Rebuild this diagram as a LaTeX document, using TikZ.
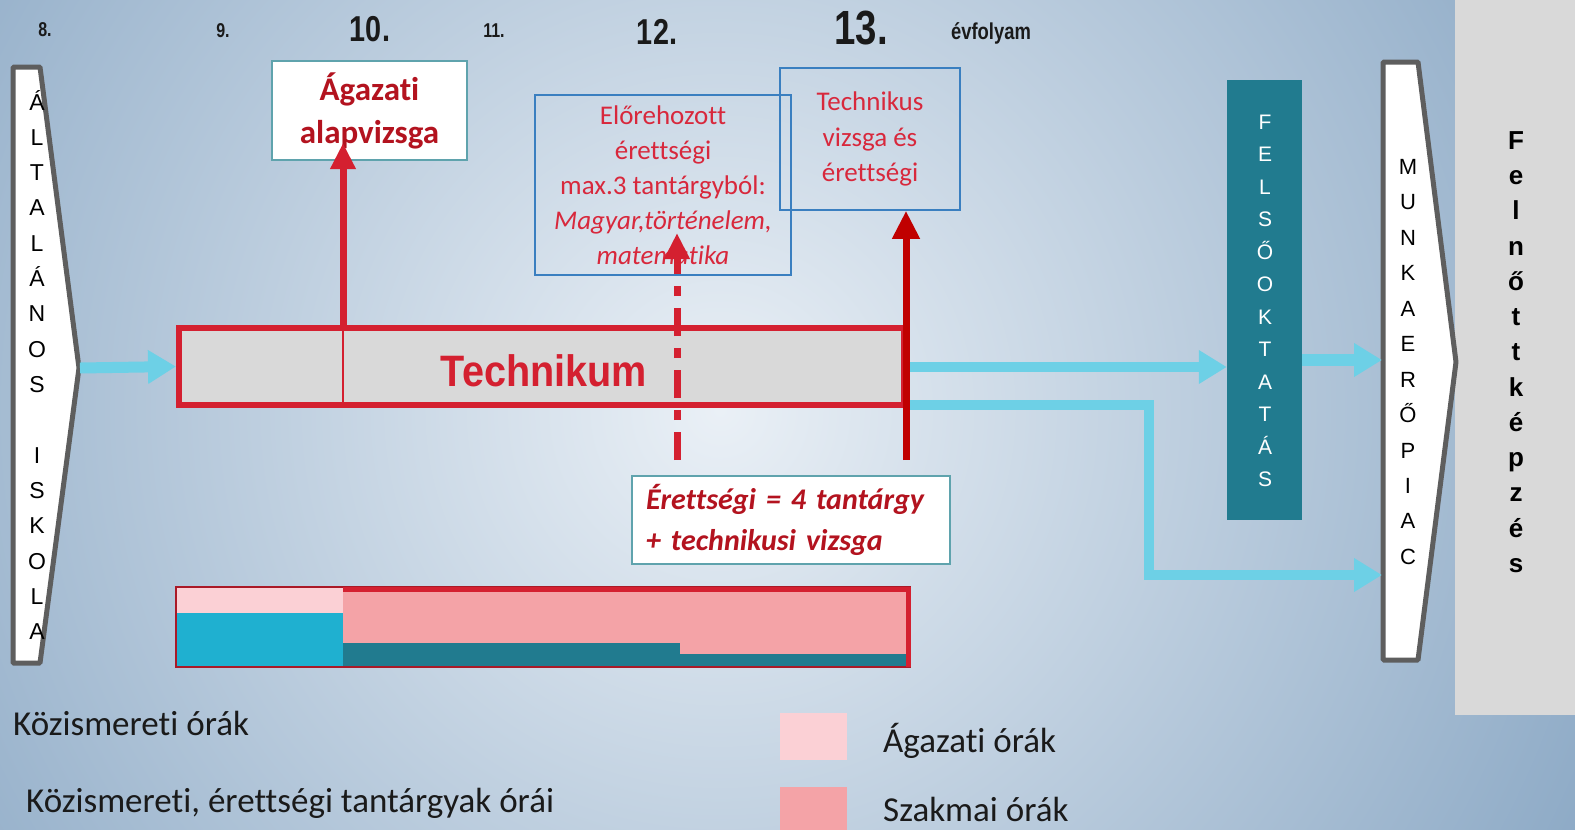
\documentclass[tikz,border=0pt]{standalone}
\usepackage{fontspec}
\setmainfont[Ligatures=NoCommon]{Carlito}
\newfontfamily\arial{Liberation Sans}
\newfontfamily\arialn[FakeStretch=0.9]{Liberation Sans}
\newfontfamily\arialnn[FakeStretch=0.8]{Liberation Sans}
\usetikzlibrary{arrows.meta}
\definecolor{bgin}{HTML}{EAF0F6}
\definecolor{bgout}{HTML}{789ABB}
\definecolor{panelgray}{HTML}{D9D9D9}
\definecolor{shapegray}{HTML}{5E5E5E}
\definecolor{redc}{HTML}{D42030}
\definecolor{darkredc}{HTML}{C00000}
\definecolor{textred}{HTML}{B3131F}
\definecolor{lightred}{HTML}{D8283C}
\definecolor{blueborder}{HTML}{3A7FC0}
\definecolor{tealborder}{HTML}{5FA3AD}
\definecolor{cyanc}{HTML}{6DD0E6}
\definecolor{tealc}{HTML}{217B8F}
\definecolor{salmon}{HTML}{F4A3A7}
\definecolor{lpink}{HTML}{FBD0D5}
\definecolor{cyanbar}{HTML}{1FB0D0}
\definecolor{darktext}{HTML}{1A1A1A}
\begin{document}
\begin{tikzpicture}[x=1pt,y=-1pt,
  whitebox/.style={draw=tealborder, fill=white, line width=1.5pt, inner sep=0pt},
  bluebox/.style={draw=blueborder, line width=1.5pt, inner sep=0pt},
  cyanarrow/.style={draw=cyanc, line width=11pt, line join=miter, -{Triangle[length=28pt,width=32pt]}},
  redarrow/.style={draw=redc, line width=7pt, -{Triangle[length=26pt,width=24pt]}},
  darkredarrow/.style={draw=darkredc, line width=7pt, -{Triangle[length=28pt,width=26pt]}},
  shapeborder/.style={draw=shapegray, fill=white, line width=5pt, line join=bevel},
  grade/.style={font=\arialnn\bfseries, text=darktext, inner sep=0pt},
  vletters/.style={align=center, inner sep=0pt},
  legendtext/.style={anchor=west, text=darktext, inner sep=0pt, font=\fontsize{35}{38}\selectfont}
]
\useasboundingbox (0,0) rectangle (1575,830);
% background
\begin{scope}
\clip (0,0) rectangle (1575,830);
\shade[inner color=bgin, outer color=bgout] (720,410) circle (1180pt);
\end{scope}
\fill[panelgray] (1455,0) rectangle (1575,715);

% grade labels
\node[grade, font=\arialnn\bfseries\fontsize{20}{22}\selectfont] (g8) at (45,30) {8.};
\node[grade, font=\arialnn\bfseries\fontsize{20}{22}\selectfont] (g9) at (223,31) {9.};
\node[grade, font=\arialnn\bfseries\fontsize{36}{38}\selectfont] (g10) at (370,29) {10.};
\node[grade, font=\arialnn\bfseries\fontsize{20}{22}\selectfont] (g11) at (494,31) {11.};
\node[grade, font=\arialnn\bfseries\fontsize{36}{38}\selectfont] (g12) at (657,32) {12.};
\node[grade, font=\arialnn\bfseries\fontsize{48}{50}\selectfont] (g13) at (861,28) {13.};
\node[grade, font=\arialnn\bfseries\fontsize{23}{25}\selectfont] (evf) at (991,33) {évfolyam};

% Altalanos iskola shape
\draw[shapeborder] (13,67) -- (40,67) -- (79,368) -- (40,663) -- (13,663) -- cycle;
\coordinate (alttip) at (80,368);
\node[vletters, font=\arial\fontsize{23}{35.33}\selectfont] (altlbl) at (37,365)
  {Á\\L\\T\\A\\L\\Á\\N\\O\\S\\\mbox{}\\I\\S\\K\\O\\L\\A};

% Munkaeropiac shape
\draw[shapeborder] (1383,62) -- (1418,62) -- (1456,362) -- (1418,660) -- (1383,660) -- cycle;
\coordinate (munkaL) at (1382,360);
\coordinate (munkaL2) at (1382,575);
\node[vletters, font=\arial\fontsize{22}{35.45}\selectfont] (munlbl) at (1408,362)
  {M\\U\\N\\K\\A\\E\\R\\Ő\\P\\I\\A\\C};

% Felnottkepzes
\node[vletters, font=\arial\bfseries\fontsize{26}{35.25}\selectfont] (felnott) at (1516,352)
  {F\\e\\l\\n\\ő\\t\\t\\k\\é\\p\\z\\é\\s};

% Felsooktatas
\node[fill=tealc, minimum width=75pt, minimum height=440pt, inner sep=0pt] (felso) at (1264.5,300) {};
\node[vletters, text=white, font=\arial\fontsize{21}{32.5}\selectfont] (felsolbl) at (1265,301)
  {F\\E\\L\\S\\Ő\\O\\K\\T\\A\\T\\Á\\S};

% Technikum
\node[draw=redc, fill=panelgray, line width=6pt, minimum width=725pt, minimum height=77pt, inner sep=0pt] (tech) at (541.5,366.5) {};
\node[text=redc, inner sep=0pt, font=\arialn\bfseries\fontsize{44}{46}\selectfont] (techlbl) at (544,371) {Technikum};
\coordinate (split) at (343,328);
\coordinate (splitb) at (343,405);
\draw[redc, line width=1.5pt] (split) -- (splitb);

% exam boxes
\node[whitebox, minimum width=195pt, minimum height=99pt, align=center, text=textred,
  font=\bfseries\fontsize{33}{43}\selectfont] (agv) at (369.5,110.5) {Ágazati\\alapvizsga};
\node[bluebox, minimum width=256pt, minimum height=180pt, align=center, text=lightred,
  font=\fontsize{27}{35}\selectfont] (elore) at (663,185)
  {Előrehozott\\érettségi\\max.3 tantárgyból:\\\textit{Magyar,történelem,}\\\textit{matematika}};
\node[bluebox, minimum width=180pt, minimum height=142pt, align=center, text=lightred,
  font=\fontsize{27}{35.5}\selectfont] (tvbox) at (870,139) {Technikus\\vizsga és\\érettségi};
\node[whitebox, minimum width=318pt, minimum height=88pt, align=left, text=textred,
  font=\bfseries\itshape\fontsize{30}{41}\selectfont, text width=290pt] (eretts) at (791,520)
  {Érettségi = 4 tantárgy\\+ technikusi vizsga};

% red arrows
\coordinate (agtip) at (343,143);
\draw[redarrow] (split) -- (agtip);
\coordinate (dashs) at (677,460);
\coordinate (dashe) at (677,233);
\draw[redarrow, dash pattern=on 28pt off 12pt on 10pt off 12pt] (dashs) -- (dashe);
\coordinate (tvs) at (906,460);
\draw[darkredarrow] (tvs) -- (tvs |- tvbox.south);

% cyan arrows
\draw[cyanarrow] (alttip) -- (tech.west);
\coordinate (c1) at (910,367);
\draw[cyanarrow, line width=10pt] (c1) -- (c1 -| felso.west);
\draw[cyanarrow, line width=12pt] (felso.east |- munkaL) -- (munkaL);
\coordinate (c2) at (910,405);
\coordinate (bendx) at (1149,575);
\draw[cyanarrow, line width=10pt] (c2) -| (bendx) -- (munkaL2);

% bottom bar
\fill[lpink] (176,587) rectangle (343,613);
\fill[cyanbar] (176,613) rectangle (343,667);
\fill[salmon] (343,587) rectangle (910,667);
\fill[tealc] (343,643) rectangle (680,667);
\fill[tealc] (680,654) rectangle (910,667);
\draw[redc!80!black, line width=2pt] (176,587) rectangle (910,667);
\draw[redc, line width=5pt] (343,589.5) -- (908.5,589.5) -- (908.5,667);

% legend
\fill[lpink] (780,713) rectangle (847,760);
\fill[salmon] (780,787) rectangle (847,830);
\node[legendtext] (lk1) at (13,723) {Közismereti órák};
\node[legendtext] (lk2) at (26,803) {Közismereti, érettségi tantárgyak órái};
\node[legendtext] (la) at (883,741) {Ágazati órák};
\node[legendtext] (ls) at (883,809) {Szakmai órák};
\end{tikzpicture}
\end{document}
